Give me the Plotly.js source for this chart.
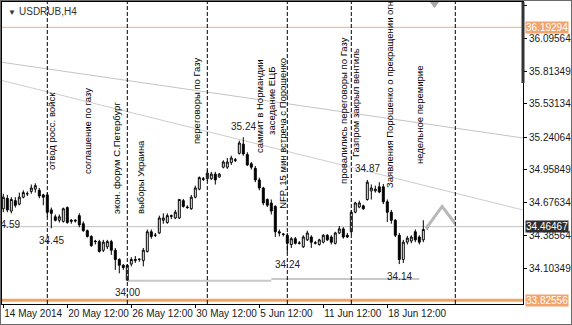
<!DOCTYPE html>
<html><head><meta charset="utf-8">
<script src="https://cdn.plot.ly/plotly-3.0.1.min.js"></script>
<style>
html,body{margin:0;padding:0;background:#fff;}
#chart{position:absolute;left:0;top:0;width:570px;height:323px;border:1px solid #6a6a6a;}
</style></head><body><div id="chart"></div>
<script>
const symbol = 'USDRUB,H4';
const open = [
34.62,34.71,34.60,34.69,34.66,34.72,34.75,34.77,34.79,34.78,
34.74,34.74,34.61,34.55,34.52,34.51,34.63,34.51,34.52,34.56,
34.49,34.43,34.38,34.34,34.335,34.26,34.29,34.335,34.26,34.18,
34.13,34.00,34.14,34.17,34.18,34.17,34.25,34.42,34.39,34.41,
34.52,34.50,34.56,34.54,34.54,34.69,34.635,34.62,34.72,34.79,
34.88,34.88,34.88,34.92,34.895,34.98,34.98,35.02,35.045,35.10,
35.18,35.09,35.01,34.97,34.87,34.80,34.70,34.67,34.64,34.42,
34.40,34.39,34.31,34.36,34.32,34.29,34.35,34.375,34.32,34.31,
34.33,34.39,34.375,34.32,34.41,34.445,34.39,34.42,34.59,34.635,
34.645,34.70,34.775,34.775,34.81,34.81,34.68,34.59,34.52,34.39,
34.18,34.33,34.34,34.42,34.375,34.35,34.455];
const high = [
34.75,34.74,34.72,34.72,34.76,34.78,34.77,34.83,34.84,34.80,
34.75,34.76,34.63,34.57,34.57,34.63,34.64,34.53,34.53,34.58,
34.51,34.44,34.39,34.35,34.35,34.35,34.35,34.35,34.28,34.19,
34.14,34.14,34.20,34.21,34.19,34.28,34.44,34.44,34.41,34.56,
34.58,34.58,34.57,34.61,34.705,34.705,34.65,34.74,34.82,34.90,
34.895,34.96,34.94,34.94,34.93,35.04,35.06,35.08,35.06,35.21,
35.24,35.11,35.025,34.99,34.89,34.81,34.71,34.70,34.65,34.44,
34.41,34.41,34.375,34.375,34.34,34.39,34.43,34.39,34.34,34.36,
34.40,34.40,34.39,34.42,34.47,34.46,34.41,34.61,34.68,34.69,
34.655,34.87,34.83,34.82,34.85,34.835,34.70,34.61,34.53,34.41,
34.35,34.385,34.39,34.44,34.39,34.52,34.48];
const low = [
34.59,34.59,34.58,34.63,34.65,34.71,34.73,34.75,34.76,34.71,
34.65,34.55,34.45,34.51,34.50,34.50,34.49,34.49,34.50,34.46,
34.42,34.37,34.29,34.31,34.24,34.245,34.27,34.22,34.09,34.06,
34.09,34.00,34.12,34.15,34.16,34.12,34.24,34.36,34.375,34.40,
34.49,34.49,34.53,34.53,34.53,34.63,34.62,34.61,34.71,34.78,
34.86,34.86,34.87,34.83,34.89,34.97,34.965,35.00,35.025,35.09,
35.08,34.99,34.96,34.85,34.78,34.65,34.635,34.57,34.375,34.38,
34.38,34.24,34.28,34.31,34.31,34.28,34.34,34.28,34.31,34.30,
34.32,34.34,34.31,34.31,34.40,34.36,34.365,34.40,34.58,34.625,
34.61,34.69,34.70,34.76,34.755,34.66,34.505,34.49,34.375,34.14,
34.15,34.31,34.32,34.33,34.31,34.33,34.44];
const close = [
34.72,34.61,34.70,34.65,34.72,34.76,34.75,34.80,34.82,34.73,
34.72,34.59,34.58,34.52,34.55,34.62,34.50,34.52,34.515,34.48,
34.43,34.38,34.30,34.335,34.25,34.33,34.335,34.26,34.18,34.13,
34.11,34.13,34.18,34.18,34.182,34.26,34.42,34.38,34.39,34.54,
34.54,34.56,34.555,34.59,34.70,34.64,34.63,34.72,34.80,34.89,
34.875,34.93,34.92,34.87,34.92,35.025,35.025,35.06,35.04,35.19,
35.095,35.00,34.98,34.87,34.80,34.67,34.65,34.60,34.42,34.41,
34.398,34.32,34.36,34.32,34.322,34.375,34.41,34.33,34.325,34.35,
34.39,34.35,34.33,34.41,34.445,34.375,34.375,34.59,34.67,34.67,
34.62,34.85,34.80,34.79,34.765,34.68,34.59,34.52,34.39,34.18,
34.33,34.365,34.375,34.35,34.33,34.44,34.465];
const bars = open.map((_, i) => i);

const tickBars = [0, 16, 32, 48, 64, 80, 96];
const tickLabels = ['14 May 2014','20 May 12:00','26 May 12:00','30 May 12:00','5 Jun 12:00','11 Jun 12:00','18 Jun 12:00'];
const priceTicks = [36.38634,36.09564,35.81349,35.53134,35.24064,34.95849,34.67634,34.38564,34.10349];

const resistance = 36.19294;
const support = 33.82556;
const bid = 34.46467;

const eventBars = [11, 31, 51, 71, 87, 113];
const noteTexts = [
 'отвод росс. войск',
 'соглашение по газу',
 'экон. форум С.Петербург',
 'выборы Украина',
 'переговоры по Газу',
 'саммит в Нормандии',
 'заседание ЕЦБ',
 'NFP, 15 мин встреча с Порошенко',
 'провалились переговоры по Газу',
 'Газпром закрыл вентиль',
 'Заявления Порошенко о прекращении огня',
 'недельное перемирие'
];
const extremeBars = [1, 12, 31, 60, 71, 91, 99];
const extremeValues = [34.59, 34.45, 34.00, 35.24, 34.24, 34.87, 34.14];
const extremeAbove = [false, false, false, true, false, true, false];

const floorBars = [31, 67, 104];
const floorValues = [33.995, 34.01];
const trendABars = [0, 129], trendAPrices = [35.888, 35.238];
const trendBBars = [0, 129], trendBPrices = [35.729, 34.617];
const wedgeBars = [105.7, 109.7, 113];
const wedgePrices = [34.45, 34.64, 34.49];

// ---- placement of the vertical notes (bar, price, anchor) ----
const notePlace = [[12.2,35.294,'middle'],[21.2,35.294,'middle'],[28.4,35.06,'middle'],[34.2,34.895,'middle'],
 [48.2,35.554,'middle'],[64.2,35.511,'middle'],[66.9,35.554,'middle'],[69.9,35.277,'middle'],
 [84.9,35.476,'middle'],[88.2,35.537,'middle'],[96.4,34.782,'bottom'],[104.2,35.433,'middle']];

const FONT = 'Liberation Sans, Arial, sans-serif';
const NOTEFONT = 'Liberation Sans, Arial, sans-serif';

const traces = [
 {type:'candlestick', x:bars, open:open, high:high, low:low, close:close,
  increasing:{line:{color:'#000', width:1}, fillcolor:'#ffffff'},
  decreasing:{line:{color:'#000', width:1}, fillcolor:'#000000'},
  whiskerwidth:0, hoverinfo:'none', showlegend:false},
 {type:'scatter', mode:'lines', x:wedgeBars, y:wedgePrices, line:{color:'#b8b8b8', width:3},
  hoverinfo:'none', showlegend:false},
 {type:'scatter', mode:'markers', x:[107.8], y:[36.395], marker:{symbol:'triangle-down', size:8, color:'#a8a8a8'},
  cliponaxis:false, hoverinfo:'none', showlegend:false}
];

function extend(bx, py, x0, x1){
  const s = (py[1]-py[0])/(bx[1]-bx[0]);
  return {x0:x0, x1:x1, y0:py[0]+s*(x0-bx[0]), y1:py[0]+s*(x1-bx[0])};
}
const shapes = [];
const tA = extend(trendABars, trendAPrices, -5, 135);
const tB = extend(trendBBars, trendBPrices, -5, 135);
shapes.push({type:'line', xref:'x', yref:'y', ...tA, line:{color:'#c4c4c4', width:1}, layer:'below'});
shapes.push({type:'line', xref:'x', yref:'y', ...tB, line:{color:'#cdcdcd', width:1}, layer:'below'});
shapes.push({type:'line', xref:'paper', yref:'y', x0:0, x1:1, y0:bid, y1:bid, line:{color:'#c0c0c0', width:1}, layer:'below'});
shapes.push({type:'line', xref:'paper', yref:'y', x0:0, x1:1, y0:resistance, y1:resistance, line:{color:'#eab27e', width:1}});
shapes.push({type:'line', xref:'paper', yref:'y', x0:0, x1:1, y0:support, y1:support, line:{color:'#f0a462', width:3}});
for (let k = 0; k < floorValues.length; k++) {
  shapes.push({type:'line', xref:'x', yref:'y', x0:floorBars[k], x1:floorBars[k+1], y0:floorValues[k], y1:floorValues[k],
    line:{color:'#c8c8c8', width:2}, layer:'below'});
}
eventBars.forEach(b => shapes.push({type:'line', xref:'x', yref:'paper', x0:b, x1:b, y0:0, y1:1,
  line:{color:'#000', width:1, dash:'4px,2px'}}));
shapes.push({type:'line', xref:'paper', yref:'y', x0:1, x1:1, y0:36.42, y1:35.71, line:{color:'#333', width:3}});

const annotations = [];
noteTexts.forEach((t, k) => annotations.push({text:t, x:notePlace[k][0], y:notePlace[k][1], xref:'x', yref:'y',
  textangle:-90, showarrow:false, xanchor:'center', yanchor:notePlace[k][2],
  font:{family:NOTEFONT, size:9.5, color:'#000'}}));
extremeValues.forEach((v, k) => annotations.push({text:v.toFixed(2), x:extremeBars[k], y:v, xref:'x', yref:'y',
  showarrow:false, yshift: extremeAbove[k] ? 11 : -12, font:{family:FONT, size:10, color:'#222'}}));
[[resistance,'#f2a46c'],[bid,'#2e2e2e'],[support,'#f2a46c']].forEach(([v,c]) => annotations.push({
  text:v.toFixed(5), xref:'paper', x:1, xanchor:'left', xshift:2, yref:'y', y:v, showarrow:false,
  bgcolor:c, borderpad:0, font:{family:FONT, size:10, color:'#ffffff'}}));
annotations.push({text:'▼', xref:'paper', yref:'paper', x:0, y:1, xanchor:'left', yanchor:'top', xshift:4, yshift:-4,
  showarrow:false, font:{family:FONT, size:8, color:'#333'}});
annotations.push({text:symbol, xref:'paper', yref:'paper', x:0, y:1, xanchor:'left', yanchor:'top', xshift:15, yshift:-2,
  showarrow:false, font:{family:FONT, size:10, color:'#333'}});

const layout = {
  width:570, height:323, margin:{l:1, r:48, t:1, b:20},
  paper_bgcolor:'#fff', plot_bgcolor:'#fff', showlegend:false,
  font:{family:FONT, size:10, color:'#1a1a1a'},
  xaxis:{type:'linear', range:[-0.325, 129.925], tickvals:tickBars, ticktext:tickLabels,
    ticks:'outside', ticklen:3, tickcolor:'#000', ticklabelposition:'outside right', tickangle:0,
    showgrid:false, zeroline:false, showline:true, mirror:true, linecolor:'#000', linewidth:1,
    rangeslider:{visible:false}, fixedrange:true},
  yaxis:{range:[33.794, 36.4124], side:'right', tickvals:priceTicks, ticktext:priceTicks.map(v => v.toFixed(5)),
    ticks:'outside', ticklen:3, tickcolor:'#000', showgrid:false, zeroline:false,
    showline:true, mirror:true, linecolor:'#000', linewidth:1, fixedrange:true},
  shapes:shapes, annotations:annotations
};
Plotly.newPlot('chart', traces, layout, {staticPlot:true});
</script></body></html>
